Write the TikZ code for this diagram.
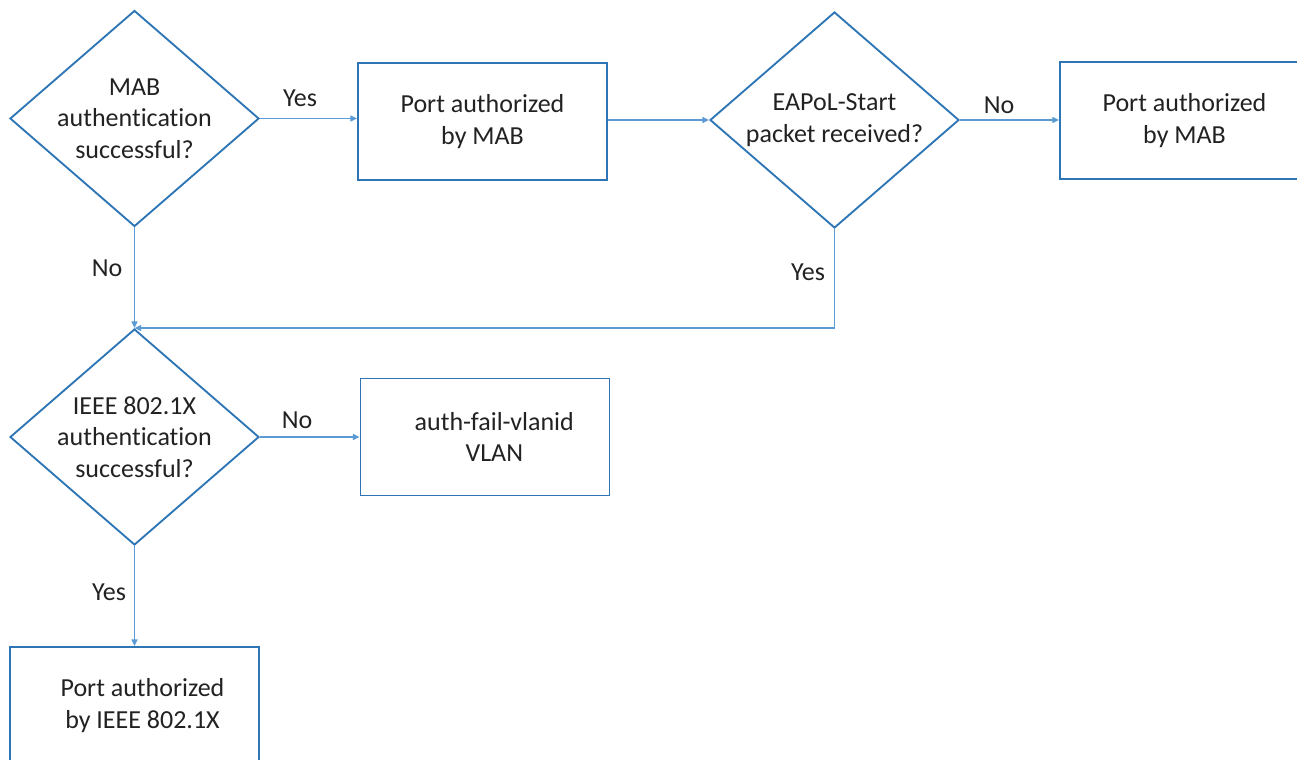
\documentclass[tikz,border=0pt]{standalone}
\usepackage{fontspec}
\setmainfont[Ligatures=CommonOff]{Carlito}
\usetikzlibrary{arrows.meta,shapes.geometric,positioning}
\definecolor{mabEdge}{HTML}{2E75B6}
\definecolor{mabLine}{HTML}{5B9BD5}
\definecolor{mabText}{HTML}{222222}
\tikzset{
  flownode/.style={
    draw=mabEdge, line width=1.4pt, text=mabText, align=center,
    font=\fontsize{19.5}{23.5}\selectfont
  },
  decision/.style={flownode, diamond, inner sep=0pt, aspect=1.16,
    minimum width=186.75pt, minimum height=162pt},
  outcome/.style={flownode, rectangle, minimum width=186.75pt, minimum height=87.75pt},
  flow/.style={-{Triangle[length=5pt,width=4.5pt]}, line width=1pt, mabLine},
  lbl/.style={font=\fontsize{19.5}{23.5}\selectfont, text=mabText, anchor=base, inner sep=0pt}
}

\begin{document}
\begin{tikzpicture}[x=0.75pt, y=-0.75pt]
  \useasboundingbox (0,0) rectangle (1297,760);

  % decisions and outcomes
  \node[decision] (mab) at (134.5,118.5) {MAB\\authentication\\successful?};
  \node[outcome] (mabok) at (482.5,121.5) {Port authorized\\by MAB};
  \node[decision] (eapol) at (834.5,120) {EAPoL-Start\\packet received?};
  \node[outcome] (mabonly) at (1184.5,120.5) {Port authorized\\by MAB};
  \node[decision] (dotx) at (134.5,437) {IEEE 802.1X\\authentication\\successful?};
  \node[outcome] (authfail) at (485,437) {\hspace*{14pt}auth-fail-vlanid\\\hspace*{14pt}VLAN};
  \node[outcome] (dotxok) at (134.5,705.5) {\hspace*{12pt}Port authorized\\\hspace*{12pt}by IEEE 802.1X};

  % connectors
  \draw[flow] (mab.east) -- (mab.east -| mabok.west);
  \draw[flow] (mabok.east |- eapol.west) -- (eapol.west);
  \draw[flow] (eapol.east) -- (eapol.east -| mabonly.west);
  \draw[flow] (mab.south) -- (dotx.north);
  \draw[flow] (eapol.south) |- (dotx.north);
  \draw[flow] (dotx.east) -- (authfail.west);
  \draw[flow] (dotx.south) -- (dotxok.north);

  % branch labels
  \node[lbl] (yesmab) at (300,106) {Yes};
  \node[lbl] (noeapol) at (999,113) {No};
  \node[lbl] (nomab) at (107,276) {No};
  \node[lbl] (yeseapol) at (808,280) {Yes};
  \node[lbl] (nodotx) at (297,428) {No};
  \node[lbl] (yesdotx) at (109,600) {Yes};
\end{tikzpicture}
\end{document}
